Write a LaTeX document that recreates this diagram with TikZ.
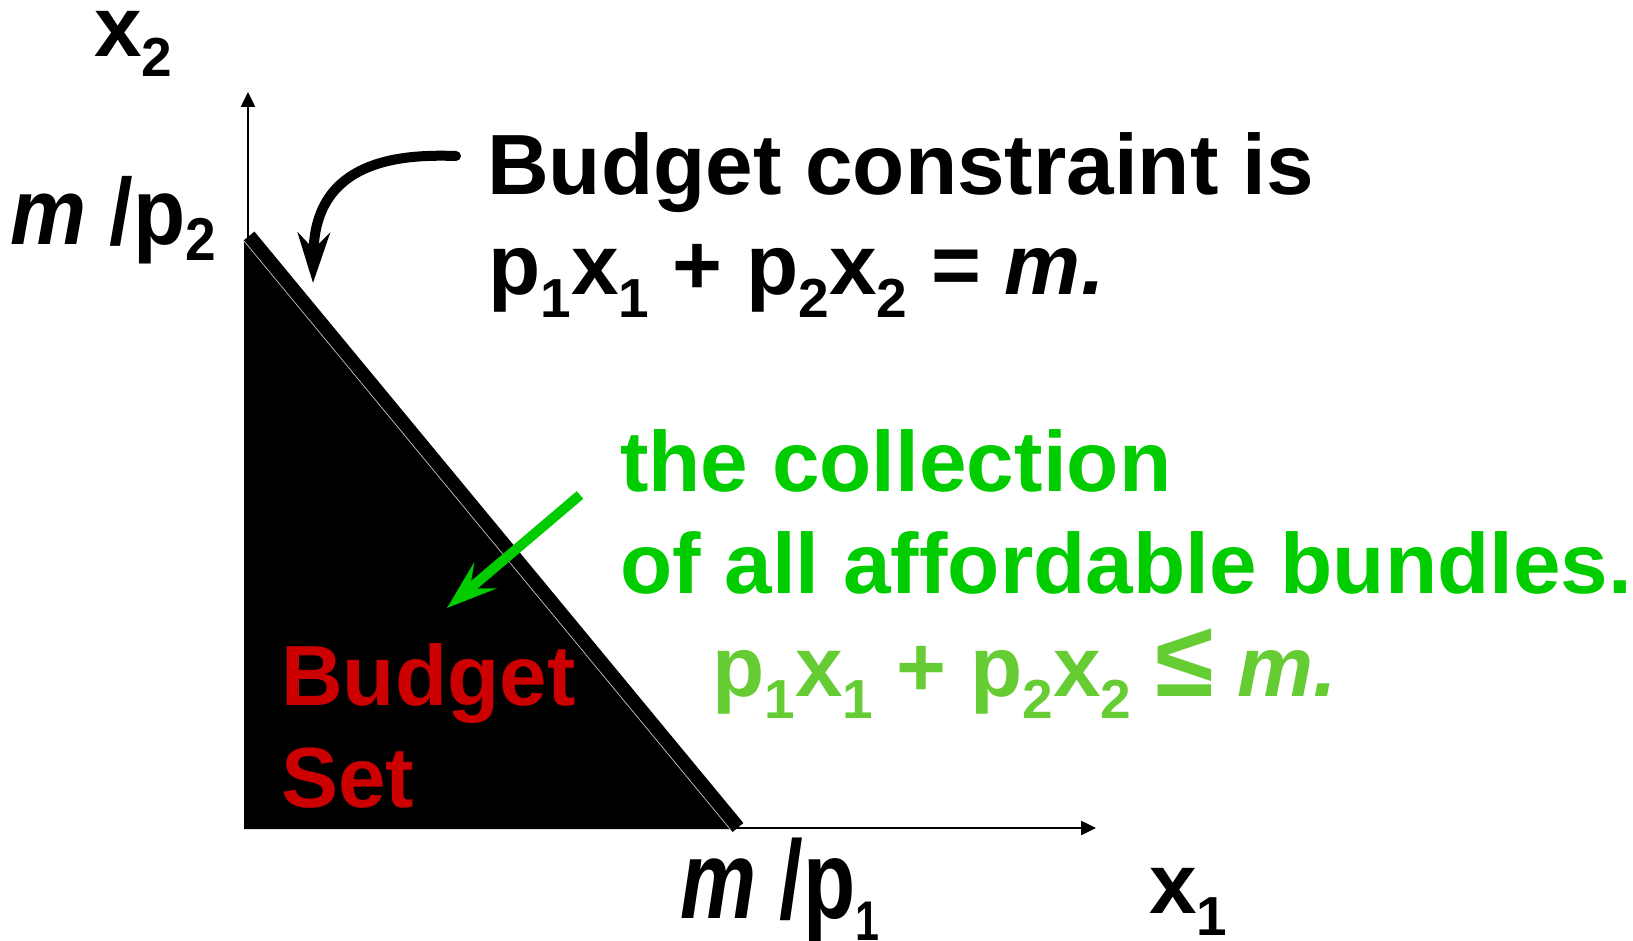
\documentclass[tikz,border=0pt]{standalone}
\usepackage{fontspec}
\setmainfont{Liberation Sans}
\usetikzlibrary{arrows.meta}
\definecolor{tgreen}{RGB}{0,204,0}
\definecolor{lgreen}{RGB}{102,204,51}
\definecolor{tred}{RGB}{204,0,0}
\newcommand\SubA[1]{\raisebox{-22pt}{\fontsize{55}{55}\selectfont #1}}
\newcommand\SubB[1]{\raisebox{-20pt}{\fontsize{55}{55}\selectfont #1}}
\newcommand\SubC[1]{\raisebox{-14pt}{\fontsize{55}{55}\selectfont #1}}
\newcommand\SubD[1]{\raisebox{-17pt}{\fontsize{43}{43}\selectfont #1}}
\tikzset{
  big/.style={font=\fontsize{85.5}{100}\selectfont\bfseries, inner sep=0pt, anchor=base west},
  axis/.style={line width=2.5pt, -{Triangle[length=15pt,width=14pt]}},
  curvearrow/.style={line width=10pt, line cap=round, -{Stealth[length=50pt,width=32pt,inset=16pt]}},
  greenarrow/.style={line width=10pt, tgreen, -{Stealth[length=50pt,width=34pt,inset=20pt]}}
}
\begin{document}
\begin{tikzpicture}[x=1pt,y=-1pt]
\useasboundingbox (0,0) rectangle (1633,941);
% axes
\coordinate (O) at (248,828);
\coordinate (Ytip) at (248,92);
\coordinate (Xtip) at (1096,828);
\draw[axis] (O) -- (Ytip);
\draw[axis] (O) -- (Xtip);
% budget set
\coordinate (T1) at (244,241);
\coordinate (T2) at (244,829);
\coordinate (T3) at (730,829);
\fill[black] (T1) -- (T2) -- (T3) -- cycle;
\coordinate (L1) at (249,236);
\coordinate (L2) at (738,827.5);
\draw[line width=14pt] (L1) -- (L2);
\draw[gray!50, line width=0.7pt] (T1) -- (T3);
% labels
\node[big] (x2) at (94,57) {x\SubB{2}};
\node[big] (mp2) at (10,245) {\scalebox{1}[1.1]{\textit{m} /p\SubC{2}}};
\node[big] (mp1) at (680,918) {\scalebox{1}[1.3]{\textit{m} /p\SubD{1}}};
\node[big] (x1) at (1149,913) {x\SubA{1}};
\node[big] (bc) at (487,195) {Budget constraint is};
\node[big] (eq) at (488,295) {p\SubA{1}x\SubA{1} + p\SubA{2}x\SubA{2} = \textit{m.}};
\node[big, text=tgreen] (col1) at (620,491) {the collection};
\node[big, text=tgreen] (col2) at (620,593) {of all affordable bundles.};
\node[big, text=lgreen] (ineq) at (712,696) {p\SubA{1}x\SubA{1} + p\SubA{2}x\SubA{2} \scalebox{1.25}{≤} \textit{m.}};
\node[big, text=tred] (bs1) at (281,705) {Budget};
\node[big, text=tred] (bs2) at (281,807) {Set};
% arrows
\coordinate (cs) at (456,156);
\coordinate (ct) at (313,283);
\draw[curvearrow] (cs) .. controls (400,154) and (315,160) .. (ct);
\coordinate (gs) at (580,495);
\coordinate (gt) at (447,608);
\draw[greenarrow] (gs) -- (gt);
\end{tikzpicture}
\end{document}
